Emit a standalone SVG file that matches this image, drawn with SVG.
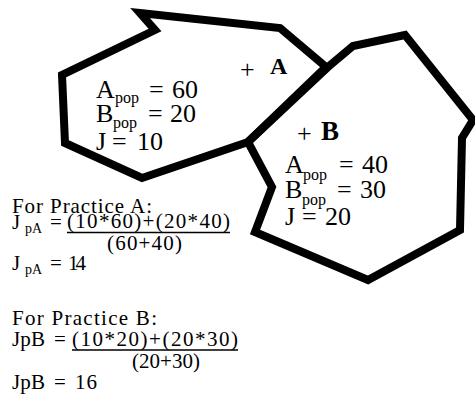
<svg xmlns="http://www.w3.org/2000/svg" width="475" height="395" viewBox="0 0 475 395">
<style>
.shape{fill:none;stroke:#000;stroke-width:8;stroke-linejoin:miter;stroke-miterlimit:10}
text{font-family:"Liberation Serif","Times New Roman",serif;fill:#000}
.v{font-size:26px}
.s{font-size:16px}
.bold{font-weight:bold}
.f{font-size:21px}
.fs{font-size:14px}
.ul{stroke:#000;stroke-width:1.3}
</style>
<rect width="475" height="395" fill="#fff"/>
<g id="region-a">
<polygon class="shape" points="140,13 280,28 326,67 248,142 142,178 65,143 62,75 155,30"/>
<text x="240" y="78" style="font-size:26px">+</text>
<text class="bold" x="270" y="74" style="font-size:24px">A</text>
<text class="v" x="96" y="98">A</text><text class="s" x="115" y="103">pop</text><text class="v" x="149" y="98">=</text><text class="v" x="172" y="98">60</text>
<text class="v" x="96" y="122">B</text><text class="s" x="113" y="128">pop</text><text class="v" x="148" y="122">=</text><text class="v" x="170" y="122">20</text>
<text class="v" x="96" y="150">J</text><text class="v" x="112" y="150">=</text><text class="v" x="137" y="150">10</text>
</g>
<g id="region-b">
<polygon class="shape" points="248,142 328,67 353,46 405,35 473,120 462,138 460,230 368,280 255,232 272,187"/>
<text x="297" y="142" style="font-size:26px">+</text>
<text class="bold" x="321" y="140" style="font-size:27px">B</text>
<text class="v" x="285" y="173">A</text><text class="s" x="303" y="180">pop</text><text class="v" x="339" y="173">=</text><text class="v" x="362" y="173">40</text>
<text class="v" x="285" y="198">B</text><text class="s" x="302" y="205">pop</text><text class="v" x="337" y="198">=</text><text class="v" x="360" y="198">30</text>
<text class="v" x="285" y="225">J</text><text class="v" x="302" y="225">=</text><text class="v" x="325" y="225">20</text>
</g>
<g id="practice-a">
<text class="f" x="12" y="213" textLength="140" lengthAdjust="spacing">For Practice A:</text>
<text class="f" x="12" y="229">J</text><text class="fs" x="25" y="233">pA</text><text class="f" x="50" y="229">=</text>
<text class="f" x="67" y="228" textLength="163" lengthAdjust="spacing">(10*60)+(20*40)</text>
<line class="ul" x1="67" y1="232.5" x2="230" y2="232.5"/>
<text class="f" x="107" y="250" textLength="75" lengthAdjust="spacing">(60+40)</text>
<text class="f" x="12" y="270">J</text><text class="fs" x="25" y="274">pA</text><text class="f" x="50" y="270">=</text><text class="f" x="68" y="270" textLength="18" lengthAdjust="spacing">14</text>
</g>
<g id="practice-b">
<text class="f" x="12" y="325" textLength="145" lengthAdjust="spacing">For Practice B:</text>
<text class="f" x="12" y="346" textLength="33" lengthAdjust="spacing">JpB</text><text class="f" x="54" y="346">=</text>
<text class="f" x="72" y="346" textLength="166" lengthAdjust="spacing">(10*20)+(20*30)</text>
<line class="ul" x1="72" y1="350" x2="238" y2="350"/>
<text class="f" x="132" y="368" textLength="68" lengthAdjust="spacing">(20+30)</text>
<text class="f" x="12" y="389" textLength="33" lengthAdjust="spacing">JpB</text><text class="f" x="54" y="389">=</text><text class="f" x="75" y="389" textLength="22" lengthAdjust="spacing">16</text>
</g>
</svg>
